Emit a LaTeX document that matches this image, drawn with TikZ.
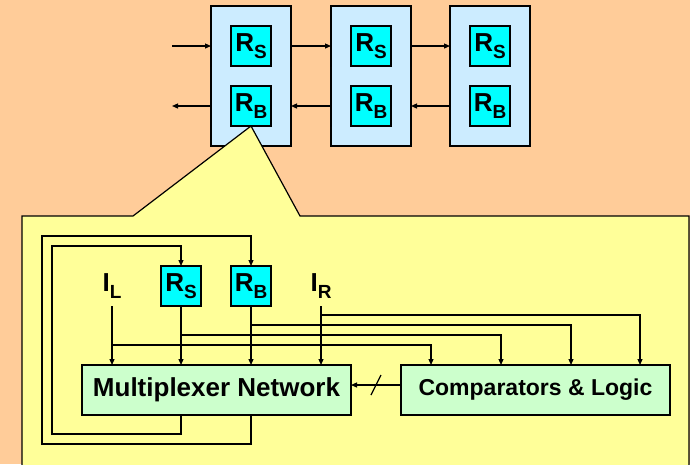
\documentclass[tikz,border=0pt]{standalone}
\usepackage{fontspec}
\setmainfont{Liberation Sans}
\usepackage{tikz}
\usetikzlibrary{arrows.meta,positioning,calc}
\definecolor{bgpeach}{RGB}{255,204,153}
\definecolor{stageblue}{RGB}{204,236,255}
\definecolor{regcyan}{RGB}{0,255,255}
\definecolor{calloutyellow}{RGB}{255,255,153}
\definecolor{unitgreen}{RGB}{204,255,204}
\newcommand{\lowsub}[1]{\raisebox{-6.5pt}{\fontsize{19}{19}\selectfont #1}}
\tikzstyle{arrow} = [line width=1.2pt,->,>={Triangle[length=6pt,width=5pt]}]
\tikzstyle{wire} = [line width=1.2pt]
\tikzstyle{stage} = [rectangle, draw, fill=stageblue, line width=1.5pt, minimum width=80pt, minimum height=140pt, outer sep=0pt]
\tikzstyle{reg} = [rectangle, draw, fill=regcyan, line width=1.5pt, minimum width=40pt, minimum height=40pt, inner sep=0pt, outer sep=0pt, text centered, font=\fontsize{26}{27}\selectfont\bfseries]
\tikzstyle{inlabel} = [rectangle, minimum width=30pt, minimum height=40pt, inner sep=0pt, outer sep=0pt, font=\fontsize{26}{27}\selectfont\bfseries]
\tikzstyle{unit} = [rectangle, draw, fill=unitgreen, line width=1.5pt, minimum width=269pt, minimum height=50pt, inner sep=0pt, outer sep=0pt, text centered]

\begin{document}
\begin{tikzpicture}[x=1pt,y=-1pt]
\useasboundingbox (0,0) rectangle (690,464);
\fill[bgpeach] (0,0) rectangle (690,464);
\clip (0,0) rectangle (690,464);

% chain of stages
\node[stage] (st1) at (251,76) {};
\node[stage, right=40pt of st1] (st2) {};
\node[stage, right=39pt of st2] (st3) {};
\node[reg] (rs1) at ([yshift=30pt]st1.center) {R\lowsub{S}};
\node[reg] (rb1) at ([yshift=-30pt]st1.center) {R\lowsub{B}};
\node[reg] (rs2) at ([yshift=30pt]st2.center) {R\lowsub{S}};
\node[reg] (rb2) at ([yshift=-30pt]st2.center) {R\lowsub{B}};
\node[reg] (rs3) at ([yshift=30pt]st3.center) {R\lowsub{S}};
\node[reg] (rb3) at ([yshift=-30pt]st3.center) {R\lowsub{B}};
\coordinate (inl) at (172,46);
\coordinate (outl) at (172,106);
\draw[arrow] (inl) -- (st1.west |- rs1);
\draw[arrow] (st1.east |- rs1) -- (st2.west |- rs2);
\draw[arrow] (st2.east |- rs2) -- (st3.west |- rs3);
\draw[arrow] (st1.west |- rb1) -- (outl);
\draw[arrow] (st2.west |- rb2) -- (st1.east |- rb1);
\draw[arrow] (st3.west |- rb3) -- (st2.east |- rb2);

% callout
\draw[fill=calloutyellow, line width=1.2pt] (22,470) -- (22,216) -- (133,216) -- (rb1.south) -- (300,216) -- (689,216) -- (689,470);

% detail of one stage
\node[inlabel] (il) at (112,286) {I\lowsub{L}};
\node[reg] (rs) at (181,286) {R\lowsub{S}};
\node[reg, right=30pt of rs] (rb) {R\lowsub{B}};
\node[inlabel] (ir) at (321,286) {I\lowsub{R}};
\node[unit, font=\fontsize{26}{30}\selectfont\bfseries] (mux) at (216.5,390) {Multiplexer Network};
\node[unit, font=\fontsize{23}{27}\selectfont\bfseries, right=50pt of mux] (cmp) {Comparators \& Logic};

\draw[arrow] (il) -- (il |- mux.north);
\draw[arrow] (rs) -- (rs |- mux.north);
\draw[arrow] (rb) -- (rb |- mux.north);
\draw[arrow] (ir) -- (ir |- mux.north);

\draw[arrow] ($(il |- mux.north)+(0pt,20pt)$) -| ($(cmp.north west)+(30pt,0pt)$);
\draw[arrow] ($(rs |- mux.north)+(0pt,30pt)$) -| ($(cmp.north west)+(100pt,0pt)$);
\draw[arrow] ($(rb |- mux.north)+(0pt,40pt)$) -| ($(cmp.north west)+(170pt,0pt)$);
\draw[arrow] ($(ir |- mux.north)+(0pt,50pt)$) -| ($(cmp.north west)+(239pt,0pt)$);

\draw[arrow] (mux.south -| rs) -- ++(0pt,-19pt) -| ([xshift=-30pt,yshift=20pt]mux.west |- rs.north) -| (rs.north);
\draw[arrow] (mux.south -| rb) -- ++(0pt,-29pt) -| ([xshift=-40pt,yshift=30pt]mux.west |- rb.north) -| (rb.north);

\draw[arrow] ([yshift=5pt]cmp.west) -- ([yshift=5pt]mux.east);
\draw[wire] ($(mux.east)!0.5!(cmp.west)+(-5pt,-5pt)$) -- +(10pt,20pt);
\end{tikzpicture}
\end{document}
